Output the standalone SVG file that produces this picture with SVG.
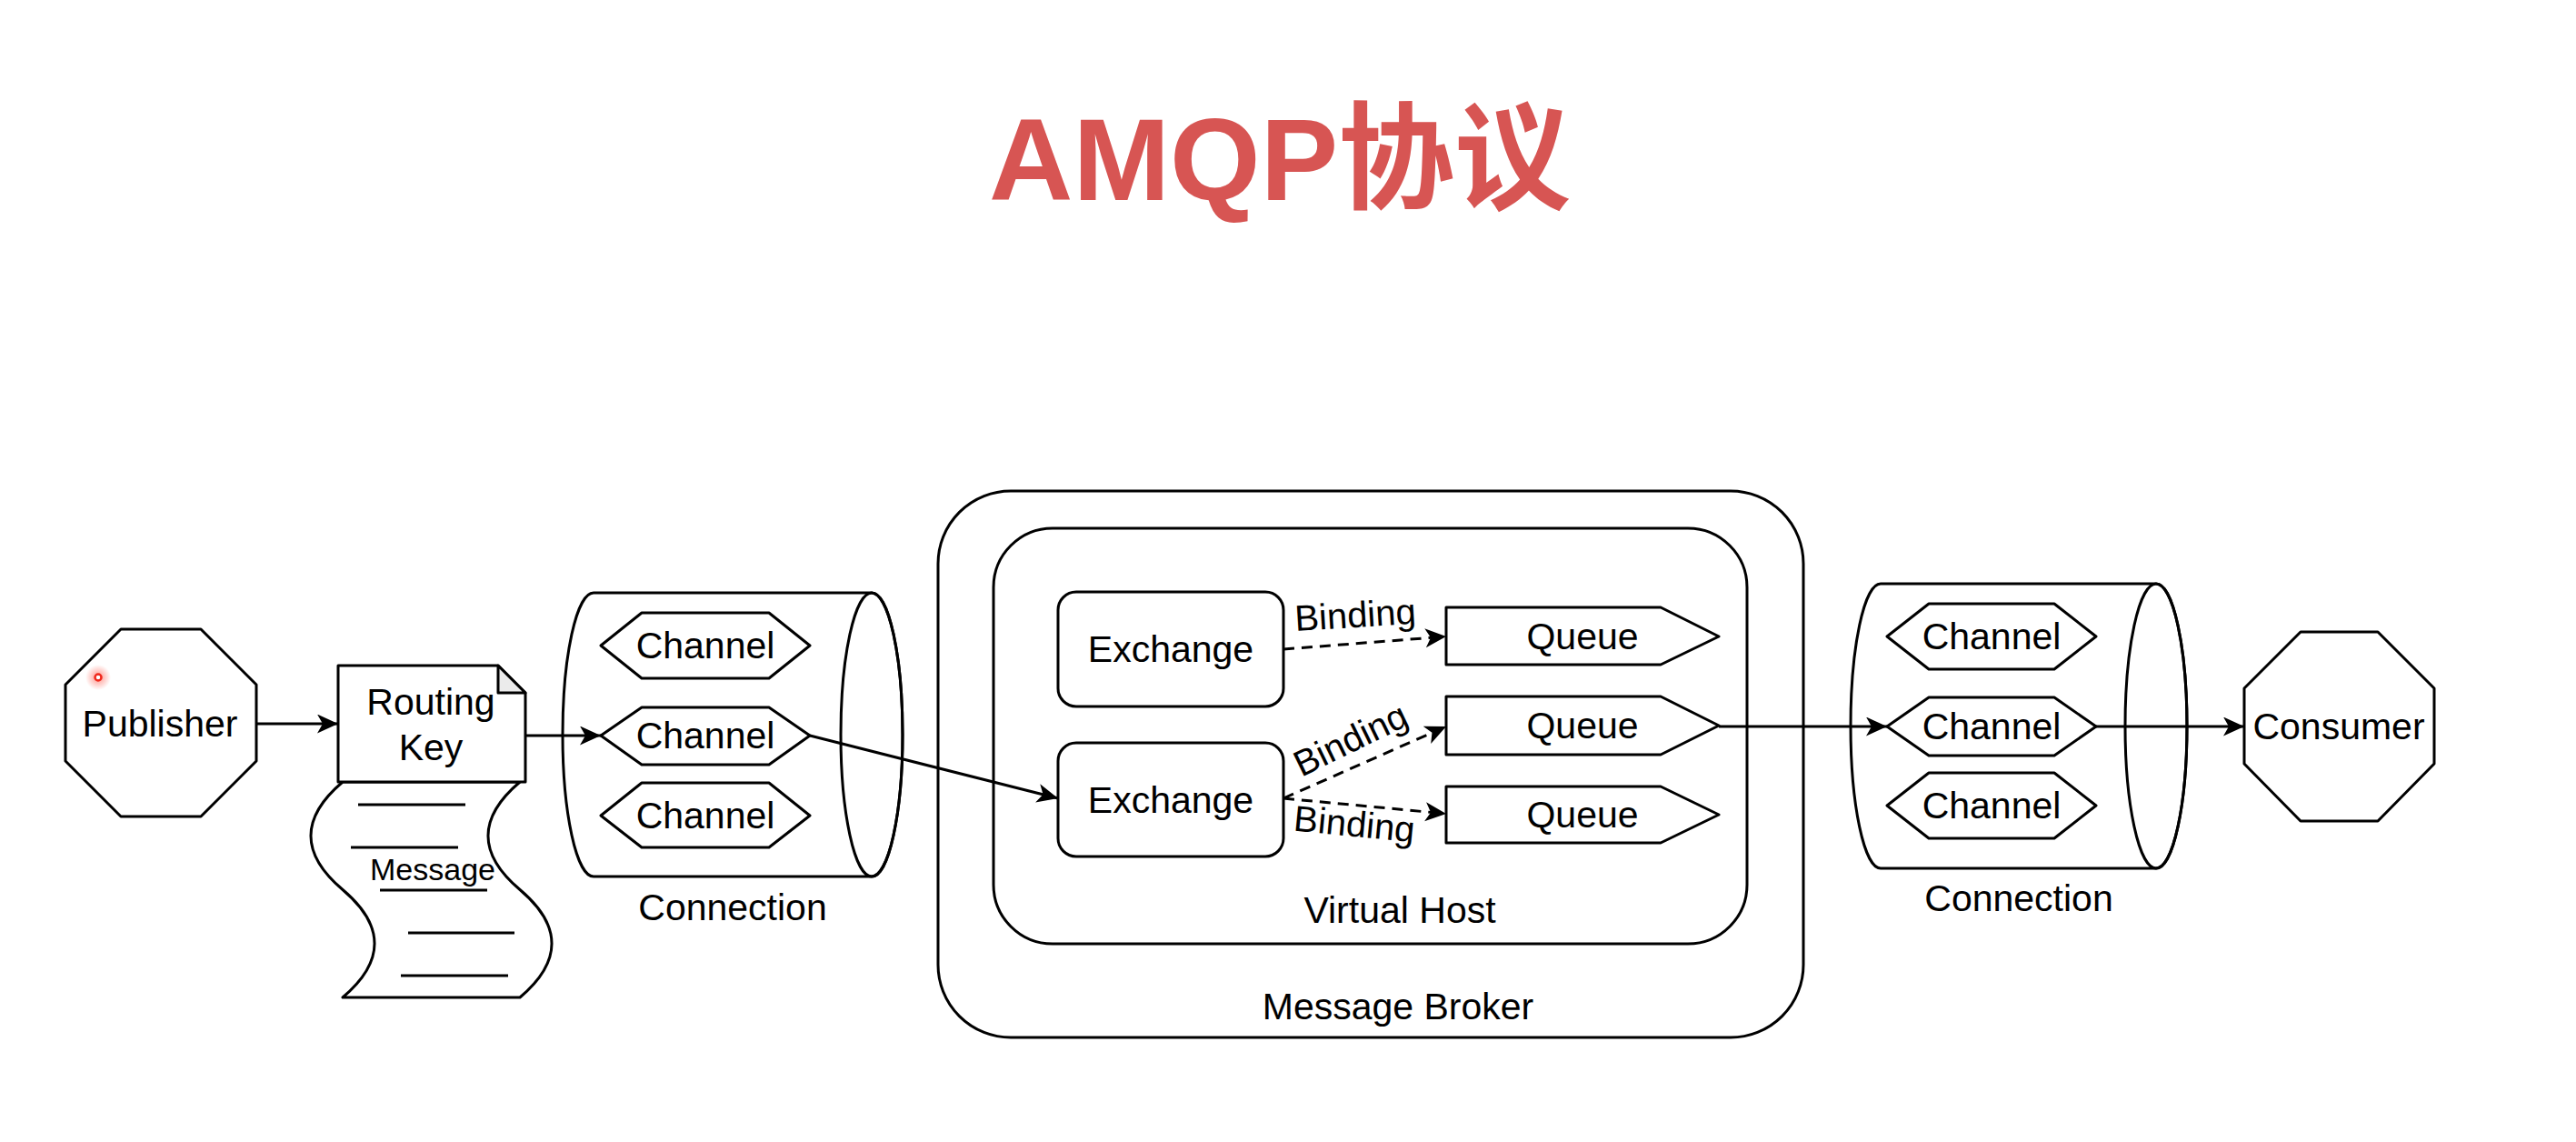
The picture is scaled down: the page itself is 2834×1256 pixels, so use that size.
<svg xmlns="http://www.w3.org/2000/svg" width="2834" height="1256" viewBox="0 0 2834 1256">
<style>
.s{fill:#fff;stroke:#000;stroke-width:3;stroke-linejoin:round}
.n{fill:none;stroke:#000;stroke-width:3}
.t{font-family:"Liberation Sans",Arial,sans-serif;font-size:41px;fill:#000;text-anchor:middle}
.c{fill:none;stroke:#000;stroke-width:3}
.d{fill:none;stroke:#000;stroke-width:3;stroke-dasharray:12 8}
</style>
<defs>
<marker id="arr" markerUnits="userSpaceOnUse" markerWidth="26" markerHeight="24" refX="23" refY="10.5" orient="auto" viewBox="0 0 26 24">
<path d="M0,0 L23,10.5 L0,21 L6,10.5 Z" fill="#000"/>
</marker>
<radialGradient id="glow">
<stop offset="0" stop-color="#ff3b2a" stop-opacity="0.55"/>
<stop offset="1" stop-color="#ff3b2a" stop-opacity="0"/>
</radialGradient>
</defs>
<rect width="2834" height="1256" fill="#fff"/>
<text x="1408" y="220" style="font-family:'Liberation Sans','Noto Sans CJK SC',sans-serif;font-weight:700;font-size:128px;fill:#D75553;text-anchor:middle">AMQP协议</text>

<g id="publisher">
<polygon class="s" points="133,692 221,692 282,753 282,837 221,898 133,898 72,837 72,753"/>
<text class="t" x="176" y="810">Publisher</text>
<circle cx="108" cy="745" r="14" fill="url(#glow)"/>
<circle cx="108" cy="745" r="3.5" fill="#fff" stroke="#f0281c" stroke-width="2.5"/>
</g>

<g id="message">
<path class="s" d="M377,860 C330.3,899.5 330.3,939 377,978.5 C423.7,1018 423.7,1057.5 377,1097 L572,1097 C618.7,1057.5 618.7,1018 572,978.5 C525.3,939 525.3,899.5 572,860 Z"/>
<path class="n" d="M394,885 H512 M386,932 H504 M418,979 H536 M449,1026 H566 M441,1073 H559"/>
<text class="t" x="476" y="968" style="font-size:34px">Message</text>
</g>

<g id="routing-key">
<path class="s" d="M372,732 L548,732 L578,762 L578,860 L372,860 Z"/>
<path d="M548,732 L548,762 L578,762 Z" fill="#ebebeb" stroke="#000" stroke-width="3" stroke-linejoin="round"/>
<text class="t" x="474" y="786">Routing</text>
<text class="t" x="474" y="836">Key</text>
</g>

<g id="connection-left">
<path class="s" d="M653,652 L959,652 A34,156 0 0 1 959,964 L653,964 A34,156 0 0 1 653,652 Z"/>
<ellipse class="n" cx="959" cy="808" rx="34" ry="156"/>
<text class="t" x="806" y="1012">Connection</text>
</g>
<g id="channel-l1">
<polygon class="s" points="661,710 706,674 846,674 891,710 846,746 706,746"/>
<text class="t" x="776" y="724">Channel</text>
</g>
<g id="channel-l2">
<polygon class="s" points="661,809 706,778 846,778 891,809 846,841 706,841"/>
<text class="t" x="776" y="823">Channel</text>
</g>
<g id="channel-l3">
<polygon class="s" points="661,897 706,861 846,861 891,897 846,932 706,932"/>
<text class="t" x="776" y="911">Channel</text>
</g>

<g id="message-broker">
<rect class="s" x="1032" y="540" width="952" height="601" rx="80" ry="80"/>
<text class="t" x="1538" y="1121">Message Broker</text>
</g>
<g id="virtual-host">
<rect class="s" x="1093" y="581" width="829" height="457" rx="65" ry="65"/>
<text class="t" x="1540" y="1015">Virtual Host</text>
</g>
<g id="exchange-1">
<rect class="s" x="1164" y="651" width="248" height="126" rx="20" ry="20"/>
<text class="t" x="1288" y="728">Exchange</text>
</g>
<g id="exchange-2">
<rect class="s" x="1164" y="817" width="248" height="125" rx="20" ry="20"/>
<text class="t" x="1288" y="894">Exchange</text>
</g>
<g id="queue-1">
<polygon class="s" points="1591,668 1827,668 1891,700 1827,731 1591,731"/>
<text class="t" x="1741" y="714">Queue</text>
</g>
<g id="queue-2">
<polygon class="s" points="1591,766 1827,766 1891,798 1827,830 1591,830"/>
<text class="t" x="1741" y="812">Queue</text>
</g>
<g id="queue-3">
<polygon class="s" points="1591,865 1827,865 1891,896 1827,927 1591,927"/>
<text class="t" x="1741" y="910">Queue</text>
</g>

<g id="connection-right">
<path class="s" d="M2069,642 L2372,642 A34,156.5 0 0 1 2372,955 L2069,955 A33,156.5 0 0 1 2069,642 Z"/>
<ellipse class="n" cx="2372" cy="798.5" rx="34" ry="156.5"/>
<text class="t" x="2221" y="1002">Connection</text>
</g>
<g id="channel-r1">
<polygon class="s" points="2076,700 2122,664 2260,664 2306,700 2260,736 2122,736"/>
<text class="t" x="2191" y="714">Channel</text>
</g>
<g id="channel-r2">
<polygon class="s" points="2076,799 2122,767 2260,767 2306,799 2260,831 2122,831"/>
<text class="t" x="2191" y="813">Channel</text>
</g>
<g id="channel-r3">
<polygon class="s" points="2076,886 2122,850 2260,850 2306,886 2260,922 2122,922"/>
<text class="t" x="2191" y="900">Channel</text>
</g>

<g id="consumer">
<polygon class="s" points="2531,695 2616,695 2678,757 2678,840 2616,903 2531,903 2469,840 2469,757"/>
<text class="t" x="2573" y="813">Consumer</text>
</g>

<g id="connectors">
<line class="c" x1="282" y1="796" x2="372" y2="796" marker-end="url(#arr)"/>
<line class="c" x1="578" y1="809" x2="661" y2="809" marker-end="url(#arr)"/>
<line class="c" x1="891" y1="809" x2="1164" y2="878" marker-end="url(#arr)"/>
<line class="d" x1="1412" y1="714" x2="1591" y2="700" marker-end="url(#arr)"/>
<line class="d" x1="1412" y1="878" x2="1591" y2="799" marker-end="url(#arr)"/>
<line class="d" x1="1412" y1="878" x2="1591" y2="895" marker-end="url(#arr)"/>
<line class="c" x1="1891" y1="799" x2="2076" y2="799" marker-end="url(#arr)"/>
<line class="c" x1="2306" y1="799" x2="2469" y2="799" marker-end="url(#arr)"/>
<g class="t" style="font-size:40px">
<text transform="translate(1491,677) rotate(-3.5)" y="13">Binding</text>
<text transform="translate(1486,814) rotate(-26)" y="13">Binding</text>
<text transform="translate(1490,907) rotate(5.5)" y="13">Binding</text>
</g>
</g>
</svg>
